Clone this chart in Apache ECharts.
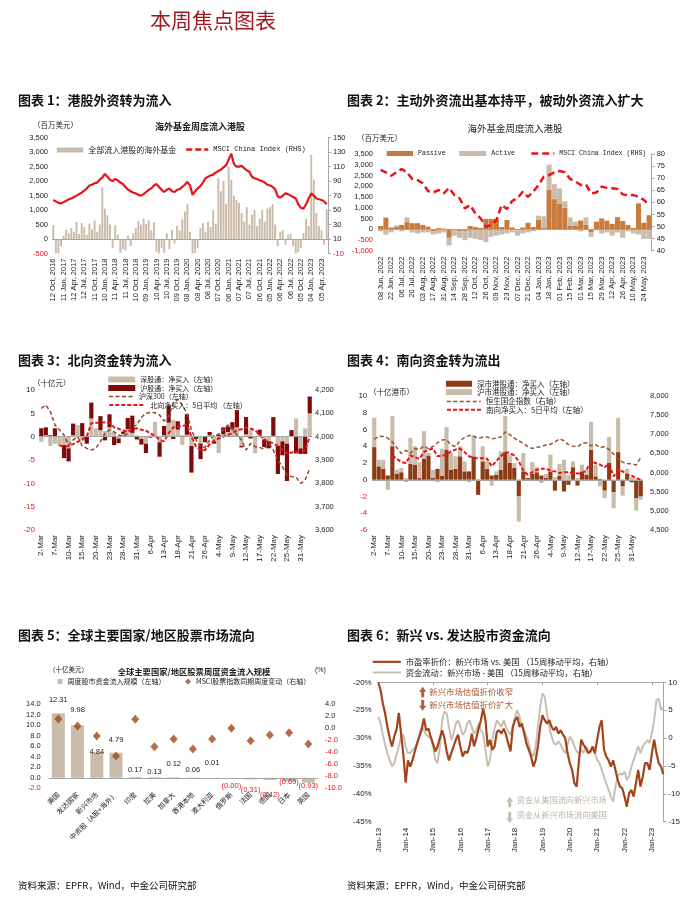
<!DOCTYPE html>
<html>
<head>
<meta charset="utf-8">
<title>本周焦点图表</title>
<script src="https://cdn.jsdelivr.net/npm/echarts@6/dist/echarts.min.js"></script>
<style>
  html, body { margin: 0; padding: 0; background: #fff; }
  #main { width: 700px; height: 905px; }
</style>
</head>
<body>
<div id="main"></div>
<script>
// ---------- 图表1：港股外资（周度，约每4周一个点） ----------
const hkQuarterLabels = ['12 Oct, 2016','11 Jan, 2017','12 Apr, 2017','12 Jul, 2017','11 Oct, 2017','10 Jan, 2018',
  '11 Apr, 2018','11 Jul, 2018','10 Oct, 2018','09 Jan, 2019','10 Apr, 2019','10 Jul, 2019','09 Oct, 2019',
  '08 Jan, 2020','08 Apr, 2020','08 Jul, 2020','07 Oct, 2020','06 Jan, 2021','07 Apr, 2021','07 Jul, 2021',
  '06 Oct, 2021','05 Jan, 2022','06 Apr, 2022','06 Jul, 2022','05 Oct, 2022','04 Jan, 2023','05 Apr, 2023'];
const hkFlows = [480,-480,-500,-250, 120,330,200,380, 250,590,180,560, 420,150,530,330, 640,250,500,1780,
  1050,820,500,-300, 480,150,-480,-350, -400,120,-250,200, 380,620,500,700, 520,650,300,580,
  -450,-500,-300,-480, 200,-350,320,-150, 450,300,680,950, 1200,250,-500,-480, -300,380,550,250,
  600,420,1000,520, 2100,1650,2000,1200, 2500,2050,1500,1350, 1250,900,600,1100, 500,850,1000,450,
  700,1000,600,1050, 1100,1200,500,-250, 250,300,-200,150, 180,-250,-500,-450, -300,200,700,450,
  2900,2050,900,450, 300,-200,1030];
const hkMsci = [64,62,60,59, 61,63,65,66, 68,70,72,74, 77,80,84,85, 87,88,92,95, 100,96,92,90, 93,91,88,86,
  82,78,76,74, 73,71,70,72, 75,78,80,84, 86,82,78,75, 78,80,76,75, 78,79,82,85, 89,84,71,76, 80,83,88,94,
  96,98,99,102, 104,106,109,112, 120,128,114,110, 110,111,108,105, 103,96,94,93, 91,90,88,85, 84,82,79,69,
  67,70,73,72, 70,68,66,58, 53,52,58,66, 73,70,66,65, 64,62,58];
const hkRightTicks = [-10,10,30,50,70,90,110,130,150];

// ---------- 图表2：主动/被动外资 ----------
const weeks2 = ['08 Jun, 2022','15 Jun, 2022','22 Jun, 2022','29 Jun, 2022','06 Jul, 2022','13 Jul, 2022','20 Jul, 2022',
  '27 Jul, 2022','03 Aug, 2022','10 Aug, 2022','17 Aug, 2022','24 Aug, 2022','31 Aug, 2022','07 Sep, 2022','14 Sep, 2022',
  '21 Sep, 2022','28 Sep, 2022','05 Oct, 2022','12 Oct, 2022','19 Oct, 2022','26 Oct, 2022','02 Nov, 2022','09 Nov, 2022',
  '16 Nov, 2022','23 Nov, 2022','30 Nov, 2022','07 Dec, 2022','14 Dec, 2022','21 Dec, 2022','28 Dec, 2022','04 Jan, 2023',
  '11 Jan, 2023','18 Jan, 2023','25 Jan, 2023','01 Feb, 2023','08 Feb, 2023','15 Feb, 2023','22 Feb, 2023','01 Mar, 2023',
  '08 Mar, 2023','15 Mar, 2023','22 Mar, 2023','29 Mar, 2023','05 Apr, 2023','12 Apr, 2023','19 Apr, 2023','26 Apr, 2023',
  '03 May, 2023','10 May, 2023','17 May, 2023','24 May, 2023','31 May, 2023'];
const passiveFlows = [150,540,80,100,200,330,280,280,200,120,-100,50,30,-400,-50,-80,-80,150,100,60,480,480,480,100,
  430,80,-50,80,300,100,430,50,1850,1400,1200,1000,150,150,400,200,-150,350,500,400,250,560,380,200,60,1200,300,650];
const activeFlows = [-100,-260,-150,80,-100,220,-150,-200,-150,-150,-150,-200,-150,-360,-250,-320,-430,-400,-450,-500,
  -600,-350,-300,-250,-200,-150,-250,-200,-150,-100,200,550,1150,700,700,300,400,200,-100,350,-200,-50,-200,-150,
  -300,-150,-400,-100,-200,-250,-450,-450];
const msci2 = [73.4,72.4,71,72.4,73.8,72.4,69.7,69.2,67.9,64.7,64.1,65.1,63.7,66,63,61.7,57.5,58.9,55.4,53.4,
  49.9,50.6,52.7,58.9,57.2,60.6,61.7,64.4,62.3,64.4,67.2,70.6,71.3,72.4,73,72.4,69.7,68.6,67.2,67.4,
  63.7,64.1,66.5,66,65.8,65.5,63.3,63,63,62.3,61,58.9];

// ---------- 图表3/4：交易日 ----------
const tradeDays = ['2-Mar','3-Mar','6-Mar','7-Mar','8-Mar','9-Mar','10-Mar','13-Mar','14-Mar','15-Mar','16-Mar','17-Mar',
  '20-Mar','21-Mar','22-Mar','23-Mar','24-Mar','27-Mar','28-Mar','29-Mar','30-Mar','31-Mar','3-Apr','4-Apr','6-Apr',
  '11-Apr','12-Apr','13-Apr','14-Apr','17-Apr','18-Apr','19-Apr','20-Apr','21-Apr','24-Apr','25-Apr','26-Apr','27-Apr',
  '28-Apr','4-May','5-May','8-May','9-May','10-May','11-May','12-May','15-May','16-May','17-May','18-May','19-May',
  '22-May','23-May','24-May','25-May','29-May','30-May','31-May','1-Jun','2-Jun'];
const northSZ = [-1.1,0.3,-2.0,-1.5,-2.0,-1.8,-2.5,0.3,2.5,-1.0, 0.2,3.9,1.8,1.4,1.2,2.0,1.0,-0.4,0.6,1.6,
  0.8,0.3,-0.5,-1.5,0.3,3.2,-1.2,0.3,3.0,3.6, 1.5,-1.8,0.4,-2.0,0.0,-1.5,0.2,0.3,-1.0,-3.5,
  0.5,1.0,1.5,2.0,-2.0,0.5,1.4,-3.6,0.4,-0.6, -1.0,0.2,-2.0,-1.0,-1.5,0.1,3.9,-2.5,1.8,5.0];
const northSH = [1.8,1.7,0.3,1.8,0.0,-2.8,-2.8,2.5,0.0,2.9, -1.5,3.4,0.0,3.0,-0.8,2.8,-1.8,-1.0,0.5,2.4,
  3.7,-0.6,-1.2,-2.0,-0.2,0.0,-3.1,2.0,3.6,-0.5, 1.8,0.2,4.4,-5.7,-0.5,-3.3,-1.2,0.7,-0.5,0.4,
  1.5,1.2,1.6,3.7,-0.3,3.7,-0.4,0.0,1.1,-1.6, -1.5,4.0,-6.0,-3.0,-8.0,1.3,-3.6,-1.2,-3.7,3.6];
const csi300 = [4121,4136,4107,4050,4029,4007,3964,3986,4000,3960, 3950,3943,3950,3979,4014,4029,4021,4007,4000,4014,
  4043,4050,4083,4100,4104,4103,4093,4067,4086,4143, 4160,4136,4100,4029,3986,3957,3954,3986,4007,4010,
  4029,4050,4036,4007,3986,3943,3971,3957,3954,3946, 3971,3943,3900,3871,3836,3829,3826,3800,3814,3864];
const north5d = [null,null,null,null,-1.9,-2.1,-2.0,-1.6,-1.1,-0.6, 0.0,2.9,3.0,3.0,3.1,3.0,2.0,1.7,1.3,1.1,
  1.6,1.8,1.5,1.3,0.7,0.2,-0.7,-1.0,0.7,2.0, 2.1,2.3,2.5,0.0,-2.1,-2.8,-2.9,-1.6,-0.8,-0.4,
  0.0,0.3,0.8,1.4,1.6,2.0,1.7,1.4,0.4,-0.6, -1.1,-1.4,-2.0,-2.8,-3.6,-3.4,-3.3,-3.2,-2.9,0.0];
const southSZ = [3.9,1.6,1.3,0.5,4.0,0.7,0.9,-0.2,1.9,1.8, 0.2,2.5,2.9,0.2,1.3,0.5,3.6,1.2,1.3,2.8,
  1.0,1.0,2.8,-1.8,2.2,1.3,0.5,0.6,1.2,3.3, 2.0,1.4,-2.0,1.0,0.2,0.7,0.9,0.5,0.2,1.0,
  -1.3,0.5,-1.4,-0.6,1.5,-0.7,1.0,0.6,3.6,0.4, 0.1,-1.3,2.0,-1.5,3.3,-0.8,0.7,-0.3,-2.2,-2.0];
const southSH = [3.5,0.8,1.1,-1.2,3.6,0.5,0.5,0.2,3.1,2.2, 1.9,3.3,0.3,1.0,-0.3,3.2,2.7,2.0,1.5,1.2,
  1.2,-0.3,2.5,0.1,1.8,0.9,-0.7,0.4,2.2,4.3, 1.0,0.6,-3.0,2.2,-0.1,1.4,0.6,-0.4,0.5,2.0,
  0.3,1.4,2.4,0.6,0.7,0.2,0.8,0.6,3.3,1.4, -0.8,-0.9,3.1,-1.9,4.1,-1.1,0.6,0.3,-1.5,-0.4];
const hscei = [6870,6950,6940,6900,6800,6650,6500,6580,6500,6630, 6600,6700,6620,6680,6780,6850,6860,6720,6680,6830,
  6920,6970,6950,6900,6920,6930,6880,6900,6930,7060, 6990,6900,6830,6760,6680,6630,6660,6680,6720,6740,
  6800,6880,6830,6730,6690,6670,6760,6780,6700,6730, 6650,6680,6600,6480,6350,6270,6240,6230,6200,6390];
const south5d = [null,null,null,null,2.9,2.5,2.1,2.0,2.9,2.7, 2.5,3.3,3.6,3.7,2.8,2.9,2.95,3.4,3.6,3.7,
  3.3,2.8,2.6,2.55,2.6,2.5,1.6,2.2,2.8,3.3, 3.2,2.9,2.2,1.1,0.6,0.9,1.2,1.3,1.3,1.1,
  1.0,0.8,0.9,0.9,0.8,0.75,0.75,1.2,2.2,2.0, 1.8,1.5,1.9,0.4,1.2,1.0,0.6,0.5,0.2,0.0];

// ---------- 图表5：全球股市流向 ----------
const regions = ['美国','发达国家','新兴市场','中资股（A股+海外）','印度','拉美','加拿大','香港本地','澳大利亚','俄罗斯','法国','德国','日本','英国'];
const weeklyFlows = [12.31,9.98,4.84,4.79,0.17,0.13,0.12,0.06,0.01,-0.004,-0.31,-0.42,-0.69,-0.93];
const msciWeeklyChg = [1.55,0.38,-1.28,-4.6,1.5,-3.07,-1.78,-3.45,-1.78,0.0,-2.06,-1.12,-0.73,-2.62];
const flowLabelLift = [4,7,-8.5,3.5,-2,-4,4,-1,6,-1,2,6,-8,-5];

// ---------- 图表6：新兴 vs 发达（月度） ----------
const monthNames = ['Jan','Feb','Mar','Apr','May','Jun','Jul','Aug','Sep','Oct','Nov','Dec'];
const emYears = ['13','14','15','16','17','18','19','20','21','22','23'];
const emPeDiscount = [-20,-21.4,-23.8,-25.6,-28,-30,-31.5,-29.7,-28.5,-25.5,-29.2,-33,
  -38,-34,-35.1,-34,-32.4,-31,-29.7,-28.5,-26.5,-28.6,-28.3,-29.8,
  -31,-32.4,-31.5,-30,-28.6,-30,-32.4,-34,-32.7,-31.5,-30.3,-29.4,
  -31.5,-33.3,-32.4,-32.7,-31.5,-29.2,-31.5,-30,-28.3,-26.8,-24.7,-26.8,
  -31.5,-30.3,-32.1,-31.5,-28.9,-28.6,-29.2,-28.3,-29.4,-31,-32.4,-28,
  -26.8,-26.2,-28,-27.4,-29.2,-31,-32.1,-33.3,-35.1,-34,-31.5,-28,
  -25.9,-26.8,-27.4,-26.8,-28,-28.6,-28,-29.2,-28.6,-29.4,-30,-32.7,
  -34.5,-35.7,-38.1,-38.7,-34,-30.3,-31.2,-31.8,-32.7,-32.4,-31.5,-32.7,
  -30.3,-28,-26.8,-32.1,-33.3,-34,-35.1,-34,-35.7,-37.5,-38.7,-39,
  -40.5,-42.3,-39.9,-39.3,-40.5,-38.1,-35.7,-38.7,-36.9,-34.5,-34.5,-35.7,
  -32.7,-30.3,-32.7,-34.5,-35.1,-36.5];
const emFlowDiff = [3.8,2.6,0.55,-1.2,-2.7,-3.9,-5.1,-4.5,-3,-1.5,0.25,0.55,
  -1.5,-2.7,-2.7,-2.1,-1.8,-0.9,0.55,2.0,1.4,0.55,0.25,0,
  -1.5,-3.9,-4.5,-1.5,3.2,4.7,4.4,2.0,-0.35,0.85,2.6,3.2,
  2.0,0.55,1.15,2.6,3.2,2.0,0.85,1.4,2.6,1.4,0.85,-2.1,
  -5.1,-3.9,-0.35,1.7,3.2,2.6,2.0,3.2,2.0,1.15,0.55,2.0,
  3.8,5.0,3.8,2.0,1.4,0.25,-0.9,-2.7,-3.3,-1.5,2.0,5.6,
  8.0,7.4,4.4,2.0,0.25,-0.9,-1.2,-0.6,-1.2,-2.1,-2.7,-1.2,
  0.25,-0.35,-1.5,-2.4,-2.7,-2.1,-2.7,-1.5,-2.1,-2.7,-1.8,-2.7,
  -3.9,-4.5,-5.7,-6.9,-8.1,-9.3,-10.5,-11.4,-8.7,-6.9,-6.3,-6.6,
  -6.0,-7.5,-6.9,-5.1,-3.9,-2.7,-1.5,-2.7,-1.5,-0.9,-0.35,-0.9,
  0.85,3.2,6.8,7.1,5.0,5.6];

// 样式
const FONT = "'Liberation Sans','Noto Sans CJK SC',sans-serif";
const CJK = "'Noto Sans CJK SC','Liberation Sans',sans-serif";
const MONO = "'Liberation Mono','DejaVu Sans Mono',monospace";
const RED = '#E8141B';
const TAN = '#C9BCAA';
const INK = '#222222';
const GRAYLINE = '#A6A6A6';

const comma = v => v.toLocaleString('en-US');
const signColor = v => (Number(v) < 0 ? RED : INK);
const paren = v => (v < 0 ? '(' + Math.abs(v).toFixed(2) + ')' : v.toFixed(2));

// 类目
const hkWeeks = hkFlows.map((_, i) => i % 4 === 0 ? hkQuarterLabels[i / 4] : hkQuarterLabels[Math.floor(i / 4)] + ' +' + (i % 4) + 'w');
const emMonths = emYears.flatMap(y => monthNames.map(m => m + '-' + y)).slice(0, emPeDiscount.length);

function merge(base, extra) {
  if (!extra) return base;
  for (const k in extra) {
    const v = extra[k];
    if (v && typeof v === 'object' && !Array.isArray(v) && base[k] && typeof base[k] === 'object') {
      base[k] = Object.assign({}, base[k], v);
    } else {
      base[k] = v;
    }
  }
  return base;
}

function valueAxis(gridIndex, min, max, interval, extra) {
  return merge({
    type: 'value', gridIndex, min, max, interval,
    splitLine: { show: false },
    axisLine: { show: false },
    axisTick: { show: false },
    axisLabel: { fontSize: 7.5, fontFamily: FONT, color: signColor, margin: 4, showMinLabel: true, showMaxLabel: true }
  }, extra);
}
const rightLine = {
  position: 'right',
  axisLine: { show: true, lineStyle: { color: GRAYLINE, width: 1 } },
  axisTick: { show: true, length: 3, lineStyle: { color: GRAYLINE } }
};

function catAxis(gridIndex, data, extra) {
  return merge({
    type: 'category', gridIndex, data, boundaryGap: true,
    axisLine: { show: false },
    axisTick: { show: false },
    splitLine: { show: false },
    axisLabel: { rotate: 90, fontSize: 7.5, fontFamily: FONT, color: INK, margin: 5, interval: 0 }
  }, extra);
}

function zeroLine() {
  return { silent: true, symbol: 'none', animation: false, label: { show: false },
    lineStyle: { color: GRAYLINE, type: 'solid', width: 1 }, data: [{ yAxis: 0 }] };
}

function legendItem(name, left, cy, w, h, size, family, extra) {
  return merge({
    data: [name], left, top: cy - 5, orient: 'horizontal', padding: 0, itemGap: 0,
    itemWidth: w, itemHeight: h, selectedMode: false,
    textStyle: { fontSize: size, fontFamily: family, color: INK }
  }, extra);
}
// 折线图例：只画线，不画小圆点
function lineLegend(name, left, cy, w, size, family, dash, width) {
  return legendItem(name, left, cy, w, 6, size, family, {
    itemStyle: { opacity: 0 },
    lineStyle: { type: dash || 'inherit', width: width || 'inherit' }
  });
}

function txt(x, y, text, font, fill, align, z) {
  return { type: 'text', x, y, silent: true, z: z || 10,
    style: { text, font, fill: fill || INK, textAlign: align || 'left', textVerticalAlign: 'middle' } };
}
function arrow(cx, yTop, yBot, up, color) {
  const hw = 3.6, sw = 1.5, hh = 5;
  const pts = up
    ? [[cx, yTop], [cx + hw, yTop + hh], [cx + sw, yTop + hh], [cx + sw, yBot], [cx - sw, yBot], [cx - sw, yTop + hh], [cx - hw, yTop + hh]]
    : [[cx, yBot], [cx + hw, yBot - hh], [cx + sw, yBot - hh], [cx + sw, yTop], [cx - sw, yTop], [cx - sw, yBot - hh], [cx - hw, yBot - hh]];
  return { type: 'polygon', silent: true, z: 10, shape: { points: pts }, style: { fill: color } };
}

const titleFont = 'bold 13px ' + CJK;
const BROWN6 = '#A4441A';
const GRAY6 = '#C8BFB3';

const option = {
  animation: false,
  backgroundColor: '#ffffff',
  textStyle: { fontFamily: FONT },
  grid: [
    { left: 52, top: 137.7, width: 276, height: 115.8, outerBoundsMode: 'none' },
    { left: 378, top: 154, width: 273.7, height: 96.7, outerBoundsMode: 'none' },
    { left: 39, top: 390, width: 273, height: 140, outerBoundsMode: 'none' },
    { left: 372, top: 396, width: 271, height: 134, outerBoundsMode: 'none' },
    { left: 48.7, top: 704.3, width: 269.2, height: 84, outerBoundsMode: 'none' },
    { left: 378.3, top: 682.3, width: 285, height: 139.4, outerBoundsMode: 'none' }
  ],
  xAxis: [
    catAxis(0, hkWeeks, { axisLabel: { interval: 3 } }),
    catAxis(1, weeks2, { axisLabel: { interval: 1, margin: 6 } }),
    catAxis(2, tradeDays, { axisLabel: { interval: 2, fontSize: 8 } }),
    catAxis(3, tradeDays, { axisLabel: { interval: 2, fontSize: 8 } }),
    catAxis(4, regions, { axisLabel: { rotate: 45, interval: 0, fontSize: 7, fontFamily: CJK, margin: 5 } }),
    catAxis(5, emMonths, { boundaryGap: false, axisLabel: { interval: 11, fontSize: 8, margin: 6 } }),
    catAxis(5, emMonths, { boundaryGap: false, position: 'top',
      axisLine: { show: true, lineStyle: { color: GRAYLINE } },
      axisTick: { show: true, interval: 23, length: 3, inside: true, lineStyle: { color: GRAYLINE } },
      axisLabel: { show: false } })
  ],
  yAxis: [
    valueAxis(0, -500, 3500, 500, { axisLabel: { formatter: comma } }),
    valueAxis(0, -10, 150, null, merge(Object.assign({}, rightLine), {
      axisLabel: { customValues: hkRightTicks, margin: 5 },
      axisTick: { show: true, length: 3, lineStyle: { color: GRAYLINE }, customValues: hkRightTicks } })),
    valueAxis(1, -1000, 3500, 500, { axisLabel: { formatter: comma, margin: 5 } }),
    valueAxis(1, 40, 80, 5, merge(Object.assign({}, rightLine), { axisLabel: { margin: 5 } })),
    valueAxis(2, -20, 10, 5, { axisLabel: { fontSize: 8 } }),
    valueAxis(2, 3600, 4200, 100, { position: 'right', axisLabel: { formatter: comma, fontSize: 7.5, margin: 3, color: INK } }),
    valueAxis(3, -6, 10, 2, { axisLabel: { fontSize: 8, margin: 4.7 } }),
    valueAxis(3, 4500, 8000, 500, { position: 'right', axisLabel: { formatter: comma, fontSize: 7.5, margin: 7, color: INK } }),
    valueAxis(4, -2, 14, 2, { axisLabel: { formatter: v => v.toFixed(1), margin: 8 } }),
    valueAxis(4, -10, 4, 2, { position: 'right', axisLabel: { formatter: v => v.toFixed(1), margin: 7 } }),
    valueAxis(5, -45, -20, 5, { axisLabel: { formatter: v => v + '%', fontSize: 8, margin: 6.6, color: INK } }),
    valueAxis(5, -15, 10, 5, merge(Object.assign({}, rightLine), { axisLabel: { fontSize: 8, margin: 5, color: INK } }))
  ],
  legend: [
    legendItem('全部流入港股的海外基金', 56.7, 151, 26.6, 5, 8, CJK, { icon: 'rect' }),
    lineLegend('MSCI China Index (RHS)', 185, 151, 22, 7, MONO, [6, 3], 2.5),
    legendItem('Passive', 386.7, 155, 26.3, 5, 6.6, MONO, { icon: 'rect' }),
    legendItem('Active', 459.3, 155, 27, 5, 6.6, MONO, { icon: 'rect' }),
    lineLegend('MSCI China Index (RHS) ', 530, 155, 23, 6.6, MONO, [7, 4], 2.5),
    legendItem('深股通：净买入（左轴）', 108.3, 381, 27, 6, 7, CJK, { icon: 'rect' }),
    legendItem('沪股通：净买入（左轴）', 108.3, 389.5, 27, 6, 7, CJK, { icon: 'rect' }),
    lineLegend('沪深300（左轴）', 108.3, 398, 25, 7, CJK),
    lineLegend('北向净买入：5日平均 （左轴）', 108.3, 406.5, 36, 7, CJK),
    legendItem('深市港股通：净买入（左轴）', 446, 385, 26, 6, 7.5, CJK, { icon: 'rect' }),
    legendItem('沪市港股通：净买入（左轴）', 446, 393.3, 26, 6, 7.5, CJK, { icon: 'rect' }),
    lineLegend('恒生国企指数（右轴）', 446, 402.7, 34, 7.5, CJK),
    lineLegend('南向净买入：5日平均（左轴）', 446, 411, 34, 7.5, CJK),
    legendItem('周度股市资金流入规模（左轴）', 57.5, 683, 5, 5, 7, CJK, { icon: 'rect' }),
    legendItem('MSCI股票指数同期周度变动（右轴）', 185, 683, 6, 6, 7, CJK),
    lineLegend('市盈率折价：新兴市场 vs. 美国 （15周移动平均，右轴）', 371.7, 662.7, 28, 8.3, CJK),
    lineLegend('资金流动：新兴市场 - 美国 （15周移动平均，右轴）', 371.7, 673.3, 28, 8.3, CJK)
  ],
  graphic: [
    txt(150, 20, '本周焦点图表', 'normal 21px ' + CJK, '#9E1B20'),
    txt(18, 100, '图表 1：港股外资转为流入', titleFont, '#111'),
    txt(347, 100, '图表 2：主动外资流出基本持平，被动外资流入扩大', titleFont, '#111'),
    txt(18, 360, '图表 3：北向资金转为流入', titleFont, '#111'),
    txt(347, 360, '图表 4：南向资金转为流出', titleFont, '#111'),
    txt(18, 635, '图表 5：全球主要国家/地区股票市场流向', titleFont, '#111'),
    txt(347, 635, '图表 6：新兴 vs. 发达股市资金流向', titleFont, '#111'),
    txt(18, 885, '资料来源：EPFR，Wind，中金公司研究部', '9.5px ' + CJK, '#111'),
    txt(347, 885, '资料来源：EPFR，Wind，中金公司研究部', '9.5px ' + CJK, '#111'),
    txt(33, 125, '（百万美元）', '7.5px ' + CJK),
    txt(200, 127, '海外基金周度流入港股', 'bold 9px ' + CJK, INK, 'center'),
    txt(515, 128, '海外基金周度流入港股', '9.5px ' + CJK, INK, 'center'),
    txt(357, 138, '（百万美元）', '7.5px ' + CJK),
    txt(33, 383, '（十亿元）', '7.5px ' + CJK),
    txt(369, 392, '（十亿港币）', '7.5px ' + CJK),
    txt(49, 670, '（十亿美元）', '6.5px ' + CJK),
    txt(194, 672, '全球主要国家/地区股票周度资金流入规模', 'bold 8.3px ' + CJK, INK, 'center'),
    txt(315, 670, '(%)', '7px ' + FONT),
    arrow(422.7, 686.7, 697.3, true, '#B0603A'),
    arrow(422.7, 700, 710.7, false, '#B0603A'),
    txt(429.3, 691.7, '新兴市场估值折价收窄', '8.4px ' + CJK, '#A65A35', 'left', 20),
    txt(429.3, 705, '新兴市场估值折价扩大', '8.4px ' + CJK, '#A65A35', 'left', 20),
    arrow(509.7, 796.7, 807.3, true, '#C8BFB3'),
    arrow(509.7, 811.7, 823.3, false, '#C8BFB3'),
    txt(516.7, 800, '资金从美国流向新兴市场', '8.2px ' + CJK, '#BDB3A6', 'left', 20),
    txt(516.7, 815, '资金从新兴市场流向美国', '8.2px ' + CJK, '#BDB3A6', 'left', 20)
  ],
  series: [
    // 图表1
    { type: 'bar', name: '全部流入港股的海外基金', xAxisIndex: 0, yAxisIndex: 0, data: hkFlows,
      itemStyle: { color: TAN }, barCategoryGap: '25%', markLine: zeroLine() },
    { type: 'line', name: 'MSCI China Index (RHS)', xAxisIndex: 0, yAxisIndex: 1, data: hkMsci,
      symbol: 'none', lineStyle: { color: RED, width: 2.2 }, itemStyle: { color: RED }, z: 3 },
    // 图表2
    { type: 'bar', name: 'Passive', xAxisIndex: 1, yAxisIndex: 2, stack: 'hk2', data: passiveFlows,
      itemStyle: { color: '#C97B3D' }, barCategoryGap: '4%', markLine: zeroLine() },
    { type: 'bar', name: 'Active', xAxisIndex: 1, yAxisIndex: 2, stack: 'hk2', data: activeFlows,
      itemStyle: { color: TAN } },
    { type: 'line', name: 'MSCI China Index (RHS) ', xAxisIndex: 1, yAxisIndex: 3, data: msci2,
      symbol: 'none', lineStyle: { color: RED, width: 2.5, type: [7, 4] }, itemStyle: { color: RED }, z: 3 },
    // 图表3
    { type: 'bar', name: '深股通：净买入（左轴）', xAxisIndex: 2, yAxisIndex: 4, stack: 'nb', data: northSZ,
      itemStyle: { color: TAN }, barCategoryGap: '8%', markLine: zeroLine() },
    { type: 'bar', name: '沪股通：净买入（左轴）', xAxisIndex: 2, yAxisIndex: 4, stack: 'nb', data: northSH,
      itemStyle: { color: '#7F0A0A' } },
    { type: 'line', name: '沪深300（左轴）', xAxisIndex: 2, yAxisIndex: 5, data: csi300,
      symbol: 'none', lineStyle: { color: '#8B4A2E', width: 1.5, type: [4, 2.5] }, itemStyle: { color: '#8B4A2E' }, z: 3 },
    { type: 'line', name: '北向净买入：5日平均 （左轴）', xAxisIndex: 2, yAxisIndex: 4, data: north5d,
      symbol: 'none', lineStyle: { color: RED, width: 2, type: [4, 2] }, itemStyle: { color: RED }, z: 4 },
    // 图表4
    { type: 'bar', name: '深市港股通：净买入（左轴）', xAxisIndex: 3, yAxisIndex: 6, stack: 'sb', data: southSZ,
      itemStyle: { color: '#8E3A14' }, barCategoryGap: '8%', markLine: zeroLine() },
    { type: 'bar', name: '沪市港股通：净买入（左轴）', xAxisIndex: 3, yAxisIndex: 6, stack: 'sb', data: southSH,
      itemStyle: { color: TAN } },
    { type: 'line', name: '恒生国企指数（右轴）', xAxisIndex: 3, yAxisIndex: 7, data: hscei,
      symbol: 'none', lineStyle: { color: '#9A5530', width: 1.5, type: [4, 2.5] }, itemStyle: { color: '#9A5530' }, z: 3 },
    { type: 'line', name: '南向净买入：5日平均（左轴）', xAxisIndex: 3, yAxisIndex: 6, data: south5d,
      symbol: 'none', lineStyle: { color: RED, width: 2, type: [4, 2] }, itemStyle: { color: RED }, z: 4 },
    // 图表5
    { type: 'bar', name: '周度股市资金流入规模（左轴）', xAxisIndex: 4, yAxisIndex: 8, barWidth: 13,
      itemStyle: { color: TAN }, markLine: zeroLine(),
      label: { show: true, fontSize: 7.5, fontFamily: FONT, formatter: p => paren(p.value) },
      data: weeklyFlows.map((v, i) => ({
        value: v,
        label: { position: v < 0 ? 'bottom' : 'top', color: v < 0 ? RED : INK,
          offset: [0, v < 0 ? flowLabelLift[i] : -flowLabelLift[i]] }
      })) },
    { type: 'scatter', name: 'MSCI股票指数同期周度变动（右轴）', xAxisIndex: 4, yAxisIndex: 9, data: msciWeeklyChg,
      symbol: 'diamond', symbolSize: [8, 9], itemStyle: { color: '#9C4A1E' }, z: 4 },
    // 图表6
    { type: 'line', name: '资金流动：新兴市场 - 美国 （15周移动平均，右轴）', xAxisIndex: 5, yAxisIndex: 11, data: emFlowDiff,
      symbol: 'none', lineStyle: { color: GRAY6, width: 2 }, itemStyle: { color: GRAY6 }, z: 2 },
    { type: 'line', name: '市盈率折价：新兴市场 vs. 美国 （15周移动平均，右轴）', xAxisIndex: 5, yAxisIndex: 10, data: emPeDiscount,
      symbol: 'none', lineStyle: { color: BROWN6, width: 2.2 }, itemStyle: { color: BROWN6 }, z: 3 }
  ]
};

const chart = echarts.init(document.getElementById('main'), null, { renderer: 'canvas' });
chart.setOption(option);
</script>
</body>
</html>
